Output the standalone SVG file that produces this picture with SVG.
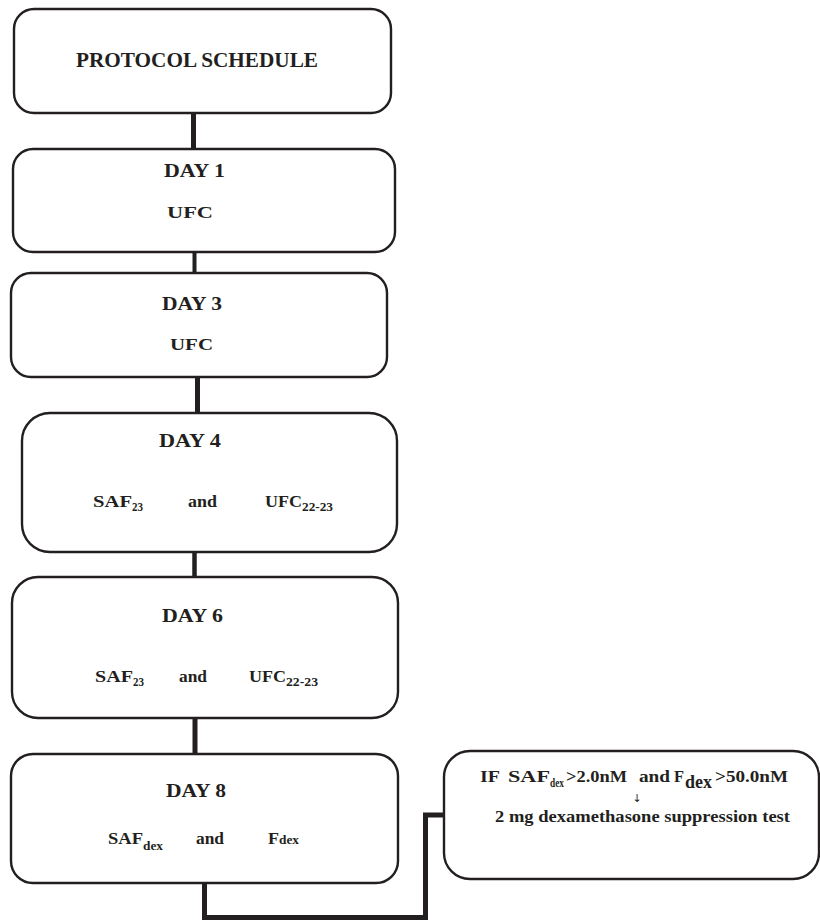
<svg xmlns="http://www.w3.org/2000/svg" width="820" height="920" viewBox="0 0 820 920">
<style>
.box{fill:#fff;stroke:#231f20;stroke-width:2.4}
.con{fill:none;stroke:#231f20;stroke-linecap:butt;stroke-linejoin:miter}
text{font-family:"Liberation Serif","Times New Roman",serif;font-weight:bold;fill:#231f20}
.t20{font-size:20px}
.t18{font-size:18px}
.t17{font-size:17px}
.s12{font-size:12px}
.s13{font-size:13px}
</style>
<rect width="820" height="920" fill="#fff"/>
<g id="connectors">
<line class="con" x1="193.5" y1="113" x2="193.5" y2="149" stroke-width="5"/>
<line class="con" x1="194.5" y1="252" x2="194.5" y2="273" stroke-width="4"/>
<line class="con" x1="197.5" y1="377" x2="197.5" y2="413" stroke-width="5"/>
<line class="con" x1="194.5" y1="552" x2="194.5" y2="577" stroke-width="4.5"/>
<line class="con" x1="195" y1="718" x2="195" y2="754" stroke-width="5"/>
<path class="con" d="M204.5 883 V917.5 H425.5 V815 H444" stroke-width="5"/>
</g>
<g id="protocol">
<rect class="box" x="14" y="9" width="377" height="104" rx="20"/>
<text class="t20" x="76" y="67" textLength="242" lengthAdjust="spacingAndGlyphs">PROTOCOL SCHEDULE</text>
</g>
<g id="day1">
<rect class="box" x="13" y="149" width="382" height="103" rx="20"/>
<text class="t18" x="164" y="177" textLength="61" lengthAdjust="spacingAndGlyphs">DAY 1</text>
<text class="t17" x="167" y="218" textLength="46" lengthAdjust="spacingAndGlyphs">UFC</text>
</g>
<g id="day3">
<rect class="box" x="11" y="273" width="376" height="104" rx="20"/>
<text class="t18" x="162" y="310" textLength="60" lengthAdjust="spacingAndGlyphs">DAY 3</text>
<text class="t17" x="170" y="350" textLength="43" lengthAdjust="spacingAndGlyphs">UFC</text>
</g>
<g id="day4">
<rect class="box" x="22" y="413" width="375" height="139" rx="28"/>
<text class="t18" x="159" y="447" textLength="62" lengthAdjust="spacingAndGlyphs">DAY 4</text>
<text class="t17" x="93" y="507" textLength="39" lengthAdjust="spacingAndGlyphs">SAF</text>
<text class="s12" x="132" y="510.5" textLength="11" lengthAdjust="spacingAndGlyphs">23</text>
<text class="t17" x="188" y="507" textLength="29" lengthAdjust="spacingAndGlyphs">and</text>
<text class="t17" x="265" y="507" textLength="37" lengthAdjust="spacingAndGlyphs">UFC</text>
<text class="s12" x="302" y="510.5" textLength="31" lengthAdjust="spacingAndGlyphs">22-23</text>
</g>
<g id="day6">
<rect class="box" x="12" y="577" width="386" height="141" rx="26"/>
<text class="t18" x="162" y="622" textLength="61" lengthAdjust="spacingAndGlyphs">DAY 6</text>
<text class="t17" x="95" y="682" textLength="38" lengthAdjust="spacingAndGlyphs">SAF</text>
<text class="s12" x="133" y="685.5" textLength="11" lengthAdjust="spacingAndGlyphs">23</text>
<text class="t17" x="179" y="682" textLength="28" lengthAdjust="spacingAndGlyphs">and</text>
<text class="t17" x="249" y="682" textLength="37" lengthAdjust="spacingAndGlyphs">UFC</text>
<text class="s12" x="286" y="685.5" textLength="32" lengthAdjust="spacingAndGlyphs">22-23</text>
</g>
<g id="day8">
<rect class="box" x="11" y="754" width="387" height="129" rx="22"/>
<text class="t18" x="166" y="797" textLength="60" lengthAdjust="spacingAndGlyphs">DAY 8</text>
<text class="t17" x="108" y="844" textLength="35" lengthAdjust="spacingAndGlyphs">SAF</text>
<text class="s13" x="143" y="849.5" textLength="20" lengthAdjust="spacingAndGlyphs">dex</text>
<text class="t17" x="196" y="844" textLength="28" lengthAdjust="spacingAndGlyphs">and</text>
<text class="t17" x="268" y="844" textLength="11" lengthAdjust="spacingAndGlyphs">F</text>
<text class="s13" x="279" y="843.5" textLength="20" lengthAdjust="spacingAndGlyphs">dex</text>
</g>
<g id="dexamethasone-test">
<rect class="box" x="444" y="751" width="375" height="128" rx="26"/>
<text class="t17" x="480" y="782" textLength="20" lengthAdjust="spacingAndGlyphs">IF</text>
<text class="t17" x="508" y="782" textLength="42" lengthAdjust="spacingAndGlyphs">SAF</text>
<text style="font-size:12px" x="550" y="786.5" textLength="14" lengthAdjust="spacingAndGlyphs">dex</text>
<text class="t17" x="566" y="782" textLength="61" lengthAdjust="spacingAndGlyphs">&gt;2.0nM</text>
<text class="t17" x="639" y="782" textLength="31" lengthAdjust="spacingAndGlyphs">and</text>
<text class="t17" x="674" y="782" textLength="10" lengthAdjust="spacingAndGlyphs">F</text>
<text style="font-size:19px" x="685" y="788" textLength="27" lengthAdjust="spacingAndGlyphs">dex</text>
<text class="t17" x="715" y="782" textLength="73" lengthAdjust="spacingAndGlyphs">&gt;50.0nM</text>
<text style="font-family:'DejaVu Sans',sans-serif;font-size:11px;font-weight:normal" x="637" y="802" text-anchor="middle">↓</text>
<text class="t17" x="495" y="822" textLength="295" lengthAdjust="spacingAndGlyphs">2 mg dexamethasone suppression test</text>
</g>
</svg>
